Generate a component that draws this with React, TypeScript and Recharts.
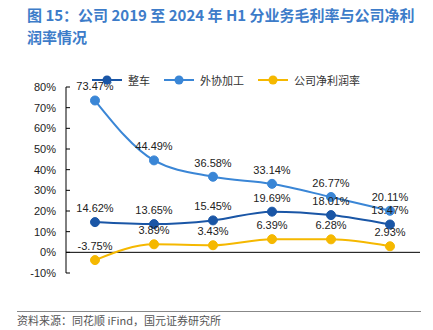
import React from "react"
import { LineChart, Line, XAxis, YAxis, ReferenceLine, LabelList, Legend } from "recharts"

const categories = ["2019", "2020", "2021", "2022", "2023", "2024H1"]
const vehicle = [14.62, 13.65, 15.45, 19.69, 18.01, 13.47]
const outsourcing = [73.47, 44.49, 36.58, 33.14, 26.77, 20.11]
const netMargin = [-3.75, 3.89, 3.43, 6.39, 6.28, 2.93]
const yTicks = [-10, 0, 10, 20, 30, 40, 50, 60, 70, 80]
const seriesNames = ["整车", "外协加工", "公司净利润率"]

const data = categories.map((c, i) => ({
  name: c,
  vehicle: vehicle[i],
  outsourcing: outsourcing[i],
  net: netMargin[i],
}))

const numFont = "'Liberation Sans', Arial, sans-serif"
const cjkFont = "'Noto Sans CJK SC', sans-serif"

const YTick = (props: any) => {
  const { x, y, payload } = props
  return (
    <g>
      <line x1={x + 10} x2={x + 14} y1={y} y2={y} stroke="#000" />
      <text x={x} y={y} dy="0.35em" textAnchor="end" fontSize={11} fontFamily={numFont} fill="#222">
        {payload.value}%
      </text>
    </g>
  )
}

const XTick = (props: any) => {
  const { x, y, payload } = props
  return (
    <text x={x} y={y - 10} dy="0.35em" textAnchor="middle" fontSize={11} fontFamily={numFont} fill="#222">
      {payload.value}
    </text>
  )
}

const LegendContent = (props: any) => {
  const items = [...(props.payload || [])].sort(
    (a: any, b: any) => seriesNames.indexOf(a.value) - seriesNames.indexOf(b.value)
  )
  return (
    <div style={{ display: "flex", gap: 14, fontFamily: cjkFont, fontSize: 11, color: "#333" }}>
      {items.map((p: any) => (
        <div key={p.value} style={{ display: "flex", alignItems: "center" }}>
          <svg width={30} height={12} style={{ marginRight: 6 }}>
            <line x1={0} x2={30} y1={6} y2={6} stroke={p.color} strokeWidth={2} />
            <circle cx={15} cy={6} r={4.5} fill={p.color} />
          </svg>
          <span>{p.value}</span>
        </div>
      ))}
    </div>
  )
}

const fmt = (v: any) => `${Number(v).toFixed(2)}%`

export default function App() {
  return (
    <div style={{ position: "absolute", left: 0, top: 0, width: 433, height: 330, background: "#fff" }}>
      <div
        style={{
          position: "absolute",
          left: 27,
          top: 4,
          fontFamily: cjkFont,
          fontWeight: 700,
          fontSize: 15,
          lineHeight: "22px",
          color: "#3D7CC9",
          whiteSpace: "nowrap",
        }}
      >
        图 15：公司 2019 至 2024 年 H1 分业务毛利率与公司净利
        <br />
        润率情况
      </div>
      <LineChart width={433} height={330} data={data} margin={{ top: 87, right: 13, bottom: 41, left: 0 }}>
        <Legend
          content={<LegendContent />}
          wrapperStyle={{ position: "absolute", top: 72, left: 92, width: "auto" }}
        />
        <XAxis
          dataKey="name"
          height={0}
          axisLine={false}
          tickLine={false}
          tickSize={0}
          tickMargin={0}
          tick={<XTick />}
          interval={0}
          padding={{ left: 29, right: 30 }}
        />
        <YAxis
          width={66}
          domain={[-10, 80]}
          ticks={yTicks}
          interval={0}
          axisLine={{ stroke: "#000" }}
          tickLine={false}
          tickSize={0}
          tickMargin={10}
          tick={<YTick />}
        />
        <ReferenceLine y={0} stroke="#000" />
        <Line
          name="整车"
          dataKey="vehicle"
          type="monotone"
          stroke="#1A56A6"
          strokeWidth={2}
          dot={{ r: 4.5, fill: "#1A56A6", stroke: "#1A56A6", strokeWidth: 1 }}
          isAnimationActive={false}
        >
          <LabelList dataKey="vehicle" position="top" offset={10} formatter={fmt} fontSize={11} fontFamily={numFont} fill="#222" />
        </Line>
        <Line
          name="外协加工"
          dataKey="outsourcing"
          type="monotone"
          stroke="#3A86D6"
          strokeWidth={2}
          dot={{ r: 4.5, fill: "#3A86D6", stroke: "#3A86D6", strokeWidth: 1 }}
          isAnimationActive={false}
        >
          <LabelList dataKey="outsourcing" position="top" offset={10} formatter={fmt} fontSize={11} fontFamily={numFont} fill="#222" />
        </Line>
        <Line
          name="公司净利润率"
          dataKey="net"
          type="monotone"
          stroke="#F5B800"
          strokeWidth={2}
          dot={{ r: 4.5, fill: "#F5B800", stroke: "#F5B800", strokeWidth: 1 }}
          isAnimationActive={false}
        >
          <LabelList dataKey="net" position="top" offset={10} formatter={fmt} fontSize={11} fontFamily={numFont} fill="#222" />
        </Line>
      </LineChart>
      <div style={{ position: "absolute", left: 17, top: 311, width: 404, borderTop: "1px solid #888" }} />
      <div
        style={{
          position: "absolute",
          left: 17,
          top: 312,
          fontFamily: cjkFont,
          fontSize: 11,
          color: "#555",
          whiteSpace: "nowrap",
        }}
      >
        资料来源：同花顺 iFind，国元证券研究所
      </div>
    </div>
  )
}
